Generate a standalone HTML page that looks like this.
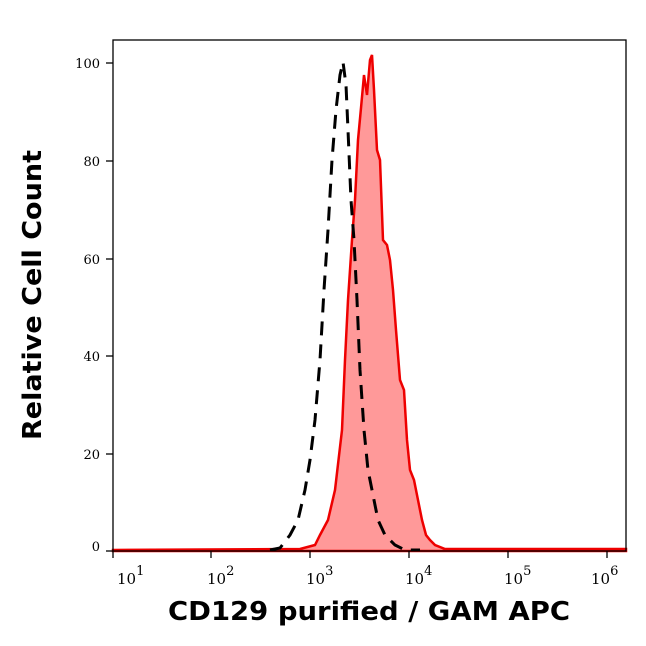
<!DOCTYPE html>
<html><head><style>body{margin:0;background:#fff}</style></head><body>
<svg width="646" height="641" xmlns="http://www.w3.org/2000/svg" font-family="DejaVu Serif, serif">
<rect width="646" height="641" fill="#fff"/>
<path d="M113,550 L300,549 L315,545 L320,535 L328,520 L335,490 L342,430 L345,360 L348,300 L352,240 L355,200 L358,140 L361,108 L364,75 L367,95 L370,60 L372,55 L374,90 L377,150 L380,160 L383,240 L387,245 L390,260 L393,290 L396,330 L400,380 L404,390 L407,440 L410,470 L414,480 L418,500 L422,520 L426,535 L430,540 L435,545 L445,549 L626,549 L626,551 L113,551 Z" fill="#ff9999" stroke="#ee0000" stroke-width="2.5"/>
<path d="M270,550 L280,548 L290,535 L298,520 L305,490 L310,460 L315,420 L320,360 L324,290 L328,230 L332,160 L336,110 L340,75 L343,62 L346,85 L348,130 L351,200 L354,240 L357,300 L360,370 L364,430 L368,470 L372,490 L378,520 L385,535 L395,545 L405,550 L420,550" fill="none" stroke="#000" stroke-width="3" stroke-dasharray="14,9"/>
<rect x="113" y="40" width="513" height="511" fill="none" stroke="#000" stroke-width="1.3"/>
<g stroke="#000" stroke-width="1.3">
<line x1="106" y1="63" x2="113" y2="63"/><line x1="106" y1="161" x2="113" y2="161"/><line x1="106" y1="259" x2="113" y2="259"/><line x1="106" y1="356" x2="113" y2="356"/><line x1="106" y1="454" x2="113" y2="454"/><line x1="106" y1="551" x2="113" y2="551"/>
<line x1="113" y1="551" x2="113" y2="558"/><line x1="211" y1="551" x2="211" y2="558"/><line x1="310" y1="551" x2="310" y2="558"/><line x1="409" y1="551" x2="409" y2="558"/><line x1="508" y1="551" x2="508" y2="558"/><line x1="607" y1="551" x2="607" y2="558"/>
</g>
<g stroke="#000" stroke-width="1" id="minor"></g>
<g font-size="13" text-anchor="end" fill="#000">
<text x="100" y="68">100</text><text x="100" y="166">80</text><text x="100" y="264">60</text><text x="100" y="361">40</text><text x="100" y="459">20</text><text x="100" y="551">0</text>
</g>
<g font-size="15" fill="#000">
<text x="117" y="584">10<tspan dy="-9" font-size="13">1</tspan></text>
<text x="207" y="584">10<tspan dy="-9" font-size="13">2</tspan></text>
<text x="306" y="584">10<tspan dy="-9" font-size="13">3</tspan></text>
<text x="405" y="584">10<tspan dy="-9" font-size="13">4</tspan></text>
<text x="504" y="584">10<tspan dy="-9" font-size="13">5</tspan></text>
<text x="591" y="584">10<tspan dy="-9" font-size="13">6</tspan></text>
</g>
<text x="168" y="620" font-family="DejaVu Sans, sans-serif" font-weight="bold" font-size="26" textLength="402" lengthAdjust="spacingAndGlyphs">CD129 purified / GAM APC</text>
<text transform="translate(41,440) rotate(-90)" font-family="DejaVu Sans, sans-serif" font-weight="bold" font-size="26" textLength="290" lengthAdjust="spacingAndGlyphs">Relative Cell Count</text>
<script>
var g=document.getElementById('minor'),s='';
for(var d=0;d<6;d++)for(var k=2;k<10;k++){var x=113+99*(d+Math.log10(k));if(x<626)s+='<line x1="'+x+'" y1="551" x2="'+x+'" y2="555"/>';}
for(var v=10;v<100;v+=20){var y=551-v*4.88;s+='<line x1="109" y1="'+y+'" x2="113" y2="'+y+'"/>';}
g.innerHTML=s;
</script>
</svg>
</body></html>
